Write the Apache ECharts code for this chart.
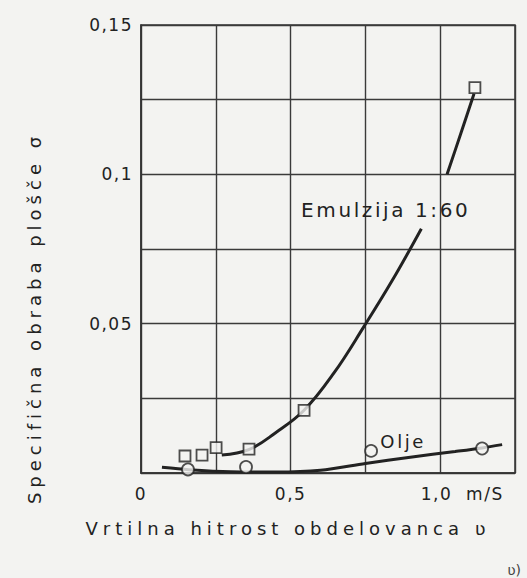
<!DOCTYPE html>
<html>
<head>
<meta charset="utf-8">
<script src="https://cdn.jsdelivr.net/npm/echarts@6/dist/echarts.min.js"></script>
<style>
html,body{margin:0;padding:0;background:#f3f3f1;}
#c{width:527px;height:578px;}
#c text[style*="lsA"], #c text[font-family*="lsA"]{letter-spacing:5px;}
#c text[style*="lsB"], #c text[font-family*="lsB"]{letter-spacing:2.6px;}
#c text[style*="lsC"], #c text[font-family*="lsC"]{letter-spacing:1.5px;}
</style>
</head>
<body>
<div id="c"></div>
<script>
// ---- data ----
const xTickValues = [0, 0.5, 1.0];
const xTickLabels = ['0', '0,5', '1,0'];
const xUnit = 'm/S';
const yTickValues = [0.05, 0.1, 0.15];
const yTickLabels = ['0,05', '0,1', '0,15'];
const xTitle = 'Vrtilna hitrost obdelovanca ʋ';
const yTitle = 'Specifična obraba plošče σ';
const cornerNote = 'ʋ)';

const emulsionName = 'Emulzija 1:60';
const emulsionX = [0.147, 0.204, 0.251, 0.361, 0.545, 1.116];
const emulsionY = [0.0057, 0.0060, 0.0085, 0.0080, 0.0210, 0.1290];
const emulsionCurveLowX = [0.27, 0.36, 0.45, 0.545, 0.645, 0.745, 0.84, 0.937];
const emulsionCurveLowY = [0.0060, 0.0078, 0.0135, 0.0210, 0.0335, 0.0490, 0.0645, 0.0818];
const emulsionCurveHighX = [1.023, 1.07, 1.113];
const emulsionCurveHighY = [0.1000, 0.1140, 0.1270];

const oilName = 'Olje';
const oilX = [0.157, 0.351, 0.769, 1.14];
const oilY = [0.0012, 0.0020, 0.0074, 0.0082];
const oilCurveX = [0.07, 0.16, 0.30, 0.45, 0.60, 0.75, 0.90, 1.05, 1.14, 1.207];
const oilCurveY = [0.0019, 0.0011, 0.0004, 0.0003, 0.0009, 0.0032, 0.0053, 0.0072, 0.0084, 0.0095];

const zip = (xs, ys) => xs.map((x, i) => [x, ys[i]]);
const fmt = (vals, labs) => v => { const i = vals.findIndex(t => Math.abs(t - v) < 1e-9); return i >= 0 ? labs[i] : ''; };

const ink = '#222';
const txt = '#222';
const bg = '#f3f3f1';
const fTitle = 'DejaVu Sans, lsA';
const fLabel = 'DejaVu Sans, lsB';
const fTick = 'DejaVu Sans, lsC';

const chart = echarts.init(document.getElementById('c'), null, {renderer: 'svg'});
chart.setOption({
  backgroundColor: bg,
  animation: false,
  grid: {left: 141, right: 12, top: 25, bottom: 105, show: true, borderColor: '#333', borderWidth: 1.5},
  xAxis: {
    type: 'value', min: 0, max: 1.25, interval: 0.25,
    axisLine: {show: true, lineStyle: {color: '#333', width: 1.5}},
    axisTick: {show: false},
    splitLine: {show: true, lineStyle: {color: '#3a3a3a', width: 1.4}},
    axisLabel: {
      margin: 12, color: txt, fontFamily: fTick, fontSize: 17,
      formatter: v => { const s = fmt(xTickValues, xTickLabels)(v); return (Math.abs(v - 1) < 1e-9) ? '{u|' + s + '  ' + xUnit + '}' : s; },
      rich: {u: {fontFamily: fTick, fontSize: 17, color: txt, padding: [0, 0, 0, 44]}}
    },
    name: xTitle, nameLocation: 'middle', nameGap: 46,
    nameTextStyle: {color: txt, fontFamily: fTitle, fontSize: 18, padding: [0, 80, 0, 0]}
  },
  yAxis: {
    type: 'value', min: 0, max: 0.15, interval: 0.025,
    axisLine: {show: true, lineStyle: {color: '#333', width: 1.5}},
    axisTick: {show: false},
    splitLine: {show: true, lineStyle: {color: '#3a3a3a', width: 1.4}},
    axisLabel: {margin: 8, color: txt, fontFamily: fTick, fontSize: 17, formatter: fmt(yTickValues, yTickLabels)},
    name: yTitle, nameLocation: 'middle', nameGap: 98, nameRotate: 90,
    nameTextStyle: {color: txt, fontFamily: fTitle, fontSize: 18, padding: [0, 138, 0, 0]}
  },
  series: [
    {type: 'line', data: zip(emulsionCurveLowX, emulsionCurveLowY), smooth: 0.4, showSymbol: false,
     lineStyle: {color: ink, width: 3}, z: 3,
     markPoint: {symbol: 'circle', symbolSize: 0, data: [{coord: [0.535, 0.088], label: {show: true, position: 'right', distance: 0, formatter: emulsionName, color: txt, fontFamily: fLabel, fontSize: 20}}]}},
    {type: 'line', data: zip(emulsionCurveHighX, emulsionCurveHighY), smooth: 0.3, showSymbol: false,
     lineStyle: {color: ink, width: 3}, z: 3},
    {type: 'line', data: zip(oilCurveX, oilCurveY), smooth: 0.3, showSymbol: false,
     lineStyle: {color: ink, width: 3}, z: 3,
     markPoint: {symbol: 'circle', symbolSize: 0, data: [{coord: [0.80, 0.0104], label: {show: true, position: 'right', distance: 0, formatter: oilName, color: txt, fontFamily: fLabel, fontSize: 18}}]}},
    {type: 'scatter', name: emulsionName, data: zip(emulsionX, emulsionY), symbol: 'rect', symbolSize: 11,
     itemStyle: {color: bg, borderColor: ink, borderWidth: 1.8}, z: 5},
    {type: 'scatter', name: oilName, data: zip(oilX, oilY), symbol: 'circle', symbolSize: 12,
     itemStyle: {color: bg, borderColor: ink, borderWidth: 1.8}, z: 5}
  ],
  graphic: [{type: 'text', right: 6, bottom: 1, style: {text: cornerNote, fill: '#444', font: '14px "DejaVu Sans"'}}]
});
</script>
</body>
</html>
